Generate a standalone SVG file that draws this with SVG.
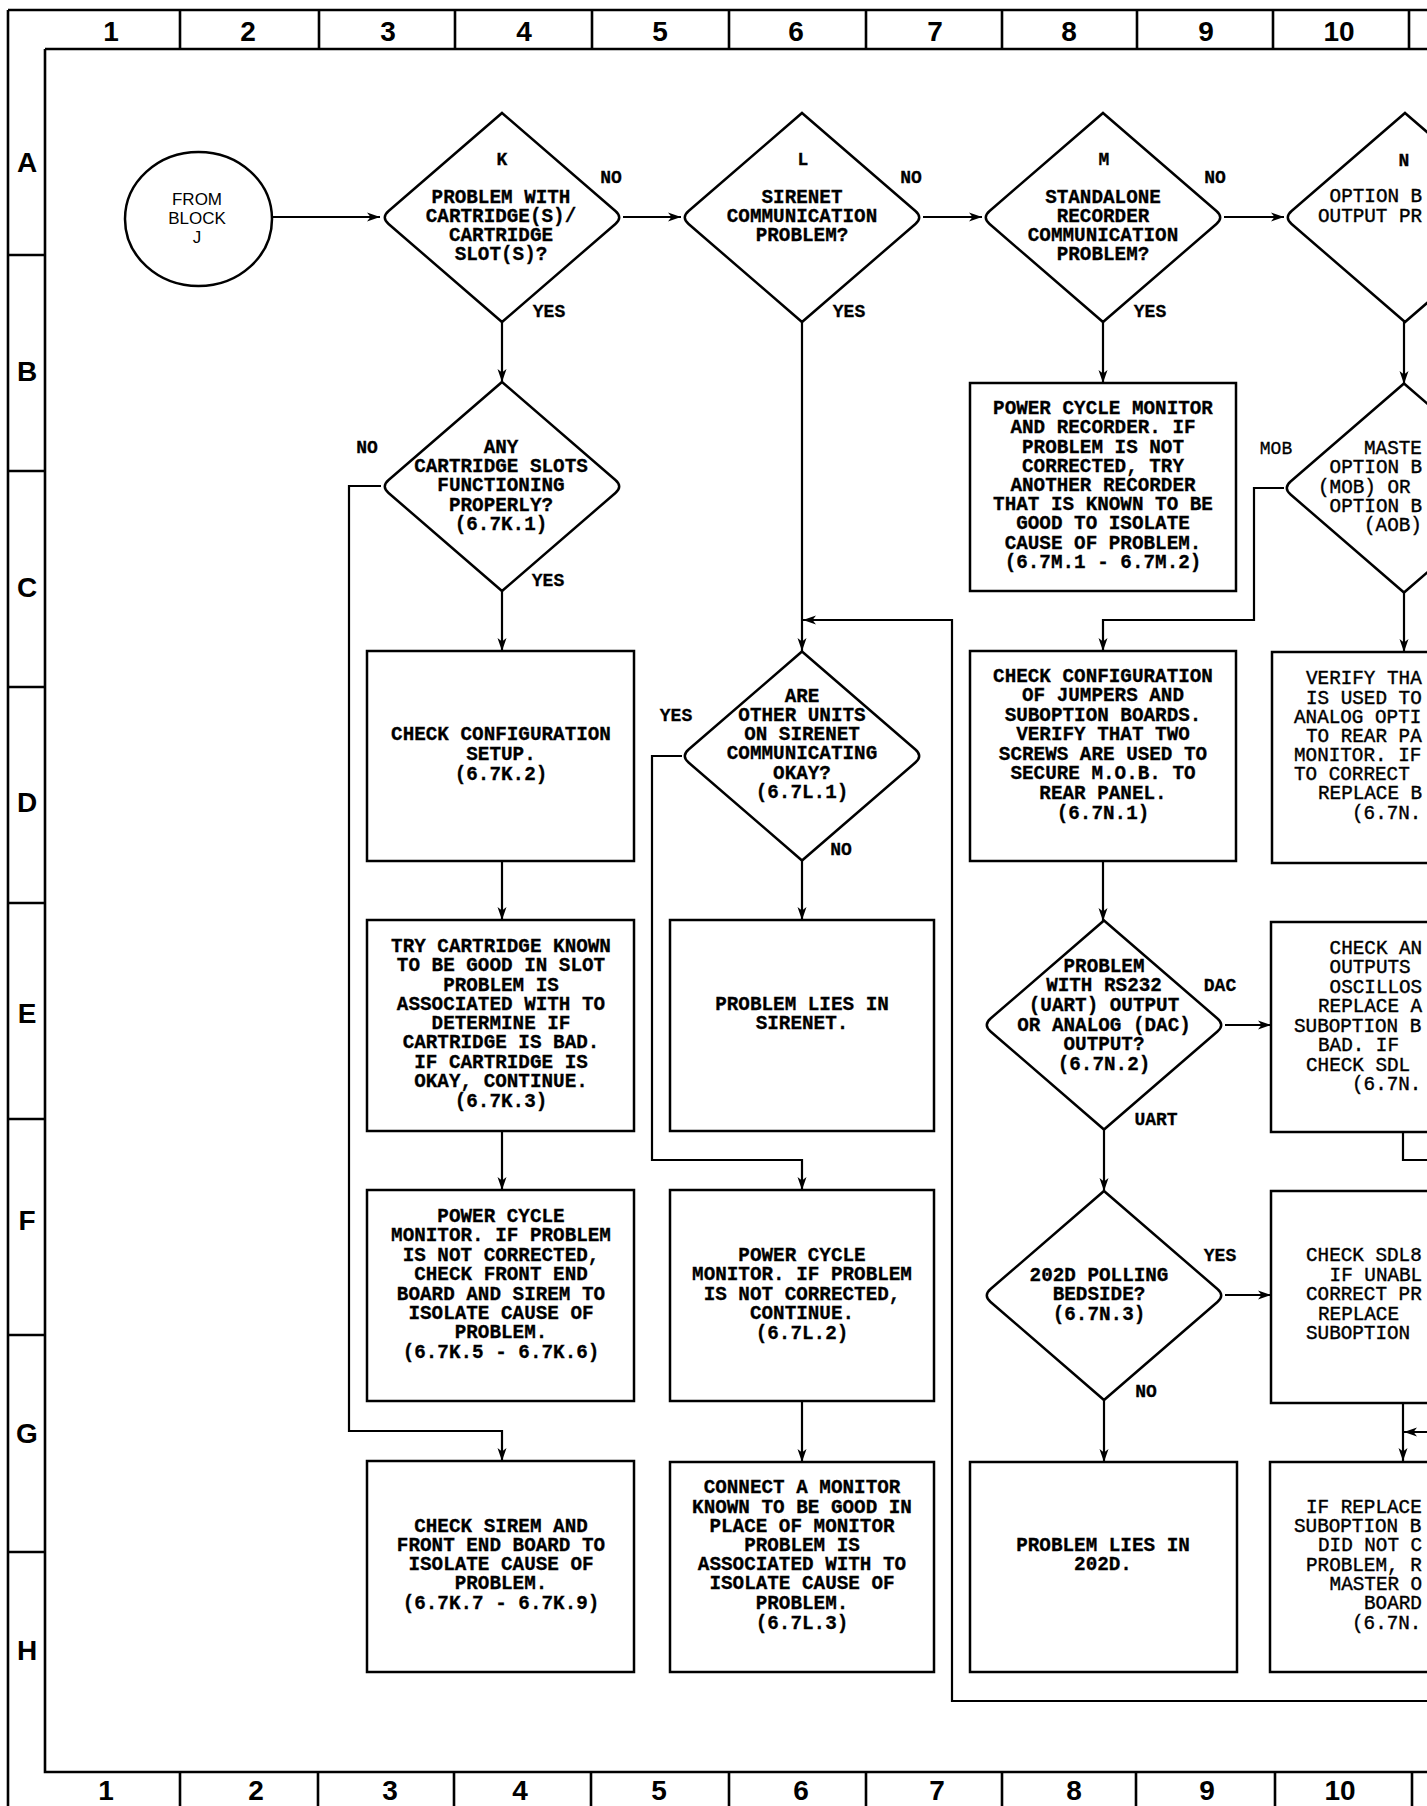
<svg xmlns="http://www.w3.org/2000/svg" width="1427" height="1806" viewBox="0 0 1427 1806">
<style>
.fr{stroke:#000;stroke-width:2.6;fill:none}
.bx{stroke:#000;stroke-width:2.5;fill:none}
.ln{stroke:#000;stroke-width:2.2;fill:none}
.hd{font-family:"Liberation Sans",Arial,sans-serif;font-weight:bold;font-size:28px;text-anchor:middle;fill:#000}
.t{font-family:"Liberation Mono","DejaVu Sans Mono",monospace;font-weight:bold;font-size:19.3px;text-anchor:middle;fill:#000;stroke:#000;stroke-width:0.3}
.r{font-family:"Liberation Mono","DejaVu Sans Mono",monospace;font-weight:normal;font-size:19.3px;text-anchor:start;fill:#000;stroke:#000;stroke-width:0.4}
.lb{font-family:"Liberation Mono","DejaVu Sans Mono",monospace;font-weight:bold;font-size:18px;text-anchor:middle;fill:#000;stroke:#000;stroke-width:0.3}
.lr{font-family:"Liberation Mono","DejaVu Sans Mono",monospace;font-weight:normal;font-size:18px;text-anchor:middle;fill:#000;stroke:#000;stroke-width:0.3}
.sf{font-family:"Liberation Sans",Arial,sans-serif;font-size:17px;text-anchor:middle;fill:#000}
</style>
<defs>
<path id="dia" d="M0,-104.5 L113.4,-6.5 Q121,0 113.4,6.5 L0,104.5 L-113.4,6.5 Q-121,0 -113.4,-6.5 Z" fill="none" stroke="#000" stroke-width="2.5"/>
<marker id="ah" viewBox="-14 -6 16 12" refX="0" refY="0" markerWidth="16" markerHeight="12" markerUnits="userSpaceOnUse" orient="auto">
<path d="M0,0 L-13,-4.5 L-9.5,0 L-13,4.5 Z" fill="#000"/>
</marker>
</defs>
<rect width="1427" height="1806" fill="#fff"/>

<g id="frame">
<path class="fr" d="M8,10 L1427,10 M8,10 L8,1806 M45,49 L1427,49 M45,49 L45,1772 L1427,1772"/>
<path class="fr" d="M180,10V49 M319,10V49 M455,10V49 M592,10V49 M729,10V49 M866,10V49 M1002,10V49 M1137,10V49 M1273,10V49 M1409,10V49"/>
<path class="fr" d="M180,1772V1806 M318,1772V1806 M454,1772V1806 M591,1772V1806 M729,1772V1806 M866,1772V1806 M1002,1772V1806 M1136,1772V1806 M1275,1772V1806 M1412,1772V1806"/>
<path class="fr" d="M8,255H45 M8,471H45 M8,687H45 M8,903H45 M8,1119H45 M8,1335H45 M8,1552H45"/>
<text class="hd" x="111" y="41">1</text>
<text class="hd" x="248" y="41">2</text>
<text class="hd" x="388" y="41">3</text>
<text class="hd" x="524" y="41">4</text>
<text class="hd" x="660" y="41">5</text>
<text class="hd" x="796" y="41">6</text>
<text class="hd" x="935" y="41">7</text>
<text class="hd" x="1069" y="41">8</text>
<text class="hd" x="1206" y="41">9</text>
<text class="hd" x="1339" y="41">10</text>
<text class="hd" x="106" y="1800">1</text>
<text class="hd" x="256" y="1800">2</text>
<text class="hd" x="390" y="1800">3</text>
<text class="hd" x="520" y="1800">4</text>
<text class="hd" x="659" y="1800">5</text>
<text class="hd" x="801" y="1800">6</text>
<text class="hd" x="937" y="1800">7</text>
<text class="hd" x="1074" y="1800">8</text>
<text class="hd" x="1207" y="1800">9</text>
<text class="hd" x="1340" y="1800">10</text>
<text class="hd" x="27" y="172">A</text>
<text class="hd" x="27" y="381">B</text>
<text class="hd" x="27" y="597">C</text>
<text class="hd" x="27" y="812">D</text>
<text class="hd" x="27" y="1023">E</text>
<text class="hd" x="27" y="1230">F</text>
<text class="hd" x="27" y="1443">G</text>
<text class="hd" x="27" y="1660">H</text>
</g>

<g id="connectors">
<path class="ln" d="M272,217 L380,217" marker-end="url(#ah)"/>
<path class="ln" d="M623,217 L681,217" marker-end="url(#ah)"/>
<path class="ln" d="M923,217 L982,217" marker-end="url(#ah)"/>
<path class="ln" d="M1224,217 L1284,217" marker-end="url(#ah)"/>
<path class="ln" d="M502,322 L502,382" marker-end="url(#ah)"/>
<path class="ln" d="M502,591 L502,651" marker-end="url(#ah)"/>
<path class="ln" d="M502,861 L502,920" marker-end="url(#ah)"/>
<path class="ln" d="M502,1131 L502,1190" marker-end="url(#ah)"/>
<path class="ln" d="M381,486 L349,486 L349,1431 L502,1431 L502,1461" marker-end="url(#ah)"/>
<path class="ln" d="M802,322 L802,651" marker-end="url(#ah)"/>
<path class="ln" d="M802,861 L802,920" marker-end="url(#ah)"/>
<path class="ln" d="M682,756 L652,756 L652,1160 L802,1160 L802,1190" marker-end="url(#ah)"/>
<path class="ln" d="M802,1401 L802,1462" marker-end="url(#ah)"/>
<path class="ln" d="M1440,1701 L952,1701 L952,620 L803,620" marker-end="url(#ah)"/>
<path class="ln" d="M1103,322 L1103,383" marker-end="url(#ah)"/>
<path class="ln" d="M1284,488 L1254,488 L1254,620 L1103,620 L1103,651" marker-end="url(#ah)"/>
<path class="ln" d="M1103,861 L1103,921" marker-end="url(#ah)"/>
<path class="ln" d="M1104,1129 L1104,1191" marker-end="url(#ah)"/>
<path class="ln" d="M1104,1400 L1104,1462" marker-end="url(#ah)"/>
<path class="ln" d="M1225,1025 L1271,1025" marker-end="url(#ah)"/>
<path class="ln" d="M1225,1295 L1271,1295" marker-end="url(#ah)"/>
<path class="ln" d="M1404,322 L1404,384" marker-end="url(#ah)"/>
<path class="ln" d="M1404,592 L1404,652" marker-end="url(#ah)"/>
<path class="ln" d="M1403,1132 L1403,1160 L1440,1160"/>
<path class="ln" d="M1403,1403 L1403,1461" marker-end="url(#ah)"/>
<path class="ln" d="M1440,1432 L1404,1432" marker-end="url(#ah)"/>
</g>

<g id="edge-labels">
<text class="lb" x="611" y="183">NO</text>
<text class="lb" x="549" y="317">YES</text>
<text class="lb" x="911" y="183">NO</text>
<text class="lb" x="849" y="317">YES</text>
<text class="lb" x="1215" y="183">NO</text>
<text class="lb" x="1150" y="317">YES</text>
<text class="lb" x="367" y="453">NO</text>
<text class="lb" x="548" y="586">YES</text>
<text class="lb" x="676" y="721">YES</text>
<text class="lb" x="841" y="855">NO</text>
<text class="lr" x="1276" y="454">MOB</text>
<text class="lb" x="1220" y="991">DAC</text>
<text class="lb" x="1156" y="1125">UART</text>
<text class="lb" x="1220" y="1261">YES</text>
<text class="lb" x="1146" y="1397">NO</text>
</g>

<g id="from-block-j">
<ellipse cx="198.5" cy="219" rx="73.5" ry="67" fill="none" stroke="#000" stroke-width="2.5"/>
<text class="sf" x="197" y="205">FROM</text>
<text class="sf" x="197" y="224">BLOCK</text>
<text class="sf" x="197" y="243">J</text>
</g>

<g id="K">
<use href="#dia" x="502" y="217.5"/>
<text class="lb" x="502" y="165">K</text>
<text class="t"><tspan x="501" y="203">PROBLEM WITH</tspan><tspan x="501" y="222">CARTRIDGE(S)/</tspan><tspan x="501" y="241">CARTRIDGE</tspan><tspan x="501" y="260">SLOT(S)?</tspan></text>
</g>

<g id="L">
<use href="#dia" x="802" y="217.5"/>
<text class="lb" x="803" y="165">L</text>
<text class="t"><tspan x="802" y="203">SIRENET</tspan><tspan x="802" y="222">COMMUNICATION</tspan><tspan x="802" y="241">PROBLEM?</tspan></text>
</g>

<g id="M">
<use href="#dia" x="1103" y="217.5"/>
<text class="lb" x="1104" y="165">M</text>
<text class="t"><tspan x="1103" y="203">STANDALONE</tspan><tspan x="1103" y="222">RECORDER</tspan><tspan x="1103" y="241">COMMUNICATION</tspan><tspan x="1103" y="260">PROBLEM?</tspan></text>
</g>

<g id="N">
<use href="#dia" x="1405" y="217.5"/>
<text class="lb" x="1404" y="166">N</text>
<text class="r" x="1329.6" y="202">OPTION B</text>
<text class="r" x="1318" y="222">OUTPUT PR</text>
</g>

<g id="K1">
<use href="#dia" x="502" y="486.5"/>
<text class="t"><tspan x="501" y="453">ANY</tspan><tspan x="501" y="472">CARTRIDGE SLOTS</tspan><tspan x="501" y="491">FUNCTIONING</tspan><tspan x="501" y="511">PROPERLY?</tspan><tspan x="501" y="530">(6.7K.1)</tspan></text>
</g>

<g id="M1">
<rect class="bx" x="970" y="383" width="266" height="208"/>
<text class="t"><tspan x="1103" y="414">POWER CYCLE MONITOR</tspan><tspan x="1103" y="433">AND RECORDER. IF</tspan><tspan x="1103" y="453">PROBLEM IS NOT</tspan><tspan x="1103" y="472">CORRECTED, TRY</tspan><tspan x="1103" y="491">ANOTHER RECORDER</tspan><tspan x="1103" y="510">THAT IS KNOWN TO BE</tspan><tspan x="1103" y="529">GOOD TO ISOLATE</tspan><tspan x="1103" y="549">CAUSE OF PROBLEM.</tspan><tspan x="1103" y="568">(6.7M.1 - 6.7M.2)</tspan></text>
</g>

<g id="N1">
<use href="#dia" x="1404" y="488"/>
<text class="r"><tspan x="1364" y="454">MASTE</tspan><tspan x="1329.6" y="473">OPTION B</tspan><tspan x="1318" y="493">(MOB) OR</tspan><tspan x="1329.6" y="512">OPTION B</tspan><tspan x="1364" y="531">(AOB)</tspan></text>
</g>

<g id="K2">
<rect class="bx" x="367" y="651" width="267" height="210"/>
<text class="t"><tspan x="501" y="740">CHECK CONFIGURATION</tspan><tspan x="501" y="760">SETUP.</tspan><tspan x="501" y="780">(6.7K.2)</tspan></text>
</g>

<g id="L1">
<use href="#dia" x="802" y="756"/>
<text class="t"><tspan x="802" y="702">ARE</tspan><tspan x="802" y="721">OTHER UNITS</tspan><tspan x="802" y="740">ON SIRENET</tspan><tspan x="802" y="759">COMMUNICATING</tspan><tspan x="802" y="779">OKAY?</tspan><tspan x="802" y="798">(6.7L.1)</tspan></text>
</g>

<g id="N1-box">
<rect class="bx" x="970" y="651" width="266" height="210"/>
<text class="t"><tspan x="1103" y="682">CHECK CONFIGURATION</tspan><tspan x="1103" y="701">OF JUMPERS AND</tspan><tspan x="1103" y="721">SUBOPTION BOARDS.</tspan><tspan x="1103" y="740">VERIFY THAT TWO</tspan><tspan x="1103" y="760">SCREWS ARE USED TO</tspan><tspan x="1103" y="779">SECURE M.O.B. TO</tspan><tspan x="1103" y="799">REAR PANEL.</tspan><tspan x="1103" y="819">(6.7N.1)</tspan></text>
</g>

<g id="verify">
<rect class="bx" x="1272" y="652" width="300" height="211"/>
<text class="r"><tspan x="1306" y="684">VERIFY THA</tspan><tspan x="1306" y="704">IS USED TO</tspan><tspan x="1294" y="723">ANALOG OPTI</tspan><tspan x="1306" y="742">TO REAR PA</tspan><tspan x="1294" y="761">MONITOR. IF</tspan><tspan x="1294" y="780">TO CORRECT</tspan><tspan x="1318" y="799">REPLACE B</tspan><tspan x="1352" y="819">(6.7N.</tspan></text>
</g>

<g id="K3">
<rect class="bx" x="367" y="920" width="267" height="211"/>
<text class="t"><tspan x="501" y="952">TRY CARTRIDGE KNOWN</tspan><tspan x="501" y="971">TO BE GOOD IN SLOT</tspan><tspan x="501" y="991">PROBLEM IS</tspan><tspan x="501" y="1010">ASSOCIATED WITH TO</tspan><tspan x="501" y="1029">DETERMINE IF</tspan><tspan x="501" y="1048">CARTRIDGE IS BAD.</tspan><tspan x="501" y="1068">IF CARTRIDGE IS</tspan><tspan x="501" y="1087">OKAY, CONTINUE.</tspan><tspan x="501" y="1107">(6.7K.3)</tspan></text>
</g>

<g id="L-sirenet">
<rect class="bx" x="670" y="920" width="264" height="211"/>
<text class="t"><tspan x="802" y="1010">PROBLEM LIES IN</tspan><tspan x="802" y="1029">SIRENET.</tspan></text>
</g>

<g id="N2">
<use href="#dia" x="1104" y="1025"/>
<text class="t"><tspan x="1104" y="972">PROBLEM</tspan><tspan x="1104" y="991">WITH RS232</tspan><tspan x="1104" y="1011">(UART) OUTPUT</tspan><tspan x="1104" y="1031">OR ANALOG (DAC)</tspan><tspan x="1104" y="1050">OUTPUT?</tspan><tspan x="1104" y="1070">(6.7N.2)</tspan></text>
</g>

<g id="check-an">
<rect class="bx" x="1271" y="922" width="300" height="210"/>
<text class="r"><tspan x="1329.6" y="954">CHECK AN</tspan><tspan x="1329.6" y="973">OUTPUTS</tspan><tspan x="1329.6" y="993">OSCILLOS</tspan><tspan x="1318" y="1012">REPLACE A</tspan><tspan x="1294" y="1032">SUBOPTION B</tspan><tspan x="1318" y="1051">BAD. IF</tspan><tspan x="1306" y="1071">CHECK SDL</tspan><tspan x="1352" y="1090">(6.7N.</tspan></text>
</g>

<g id="K5">
<rect class="bx" x="367" y="1190" width="267" height="211"/>
<text class="t"><tspan x="501" y="1222">POWER CYCLE</tspan><tspan x="501" y="1241">MONITOR. IF PROBLEM</tspan><tspan x="501" y="1261">IS NOT CORRECTED,</tspan><tspan x="501" y="1280">CHECK FRONT END</tspan><tspan x="501" y="1300">BOARD AND SIREM TO</tspan><tspan x="501" y="1319">ISOLATE CAUSE OF</tspan><tspan x="501" y="1338">PROBLEM.</tspan><tspan x="501" y="1358">(6.7K.5 - 6.7K.6)</tspan></text>
</g>

<g id="L2">
<rect class="bx" x="670" y="1190" width="264" height="211"/>
<text class="t"><tspan x="802" y="1261">POWER CYCLE</tspan><tspan x="802" y="1280">MONITOR. IF PROBLEM</tspan><tspan x="802" y="1300">IS NOT CORRECTED,</tspan><tspan x="802" y="1319">CONTINUE.</tspan><tspan x="802" y="1339">(6.7L.2)</tspan></text>
</g>

<g id="N3">
<use href="#dia" x="1104" y="1295.5"/>
<text class="t"><tspan x="1099" y="1281">202D POLLING</tspan><tspan x="1099" y="1300">BEDSIDE?</tspan><tspan x="1099" y="1320">(6.7N.3)</tspan></text>
</g>

<g id="check-sdl8">
<rect class="bx" x="1271" y="1191" width="300" height="212"/>
<text class="r"><tspan x="1306" y="1261">CHECK SDL8</tspan><tspan x="1329.6" y="1281">IF UNABL</tspan><tspan x="1306" y="1300">CORRECT PR</tspan><tspan x="1318" y="1320">REPLACE</tspan><tspan x="1306" y="1339">SUBOPTION</tspan></text>
</g>

<g id="K7">
<rect class="bx" x="367" y="1461" width="267" height="211"/>
<text class="t"><tspan x="501" y="1532">CHECK SIREM AND</tspan><tspan x="501" y="1551">FRONT END BOARD TO</tspan><tspan x="501" y="1570">ISOLATE CAUSE OF</tspan><tspan x="501" y="1589">PROBLEM.</tspan><tspan x="501" y="1609">(6.7K.7 - 6.7K.9)</tspan></text>
</g>

<g id="L3">
<rect class="bx" x="670" y="1462" width="264" height="210"/>
<text class="t"><tspan x="802" y="1493">CONNECT A MONITOR</tspan><tspan x="802" y="1513">KNOWN TO BE GOOD IN</tspan><tspan x="802" y="1532">PLACE OF MONITOR</tspan><tspan x="802" y="1551">PROBLEM IS</tspan><tspan x="802" y="1570">ASSOCIATED WITH TO</tspan><tspan x="802" y="1589">ISOLATE CAUSE OF</tspan><tspan x="802" y="1609">PROBLEM.</tspan><tspan x="802" y="1629">(6.7L.3)</tspan></text>
</g>

<g id="P202D">
<rect class="bx" x="970" y="1462" width="267" height="210"/>
<text class="t"><tspan x="1103" y="1551">PROBLEM LIES IN</tspan><tspan x="1103" y="1570">202D.</tspan></text>
</g>

<g id="if-replace">
<rect class="bx" x="1270" y="1462" width="300" height="210"/>
<text class="r"><tspan x="1306" y="1513">IF REPLACE</tspan><tspan x="1294" y="1532">SUBOPTION B</tspan><tspan x="1318" y="1551">DID NOT C</tspan><tspan x="1306" y="1571">PROBLEM, R</tspan><tspan x="1329.6" y="1590">MASTER O</tspan><tspan x="1364" y="1609">BOARD</tspan><tspan x="1352" y="1629">(6.7N.</tspan></text>
</g>
</svg>
